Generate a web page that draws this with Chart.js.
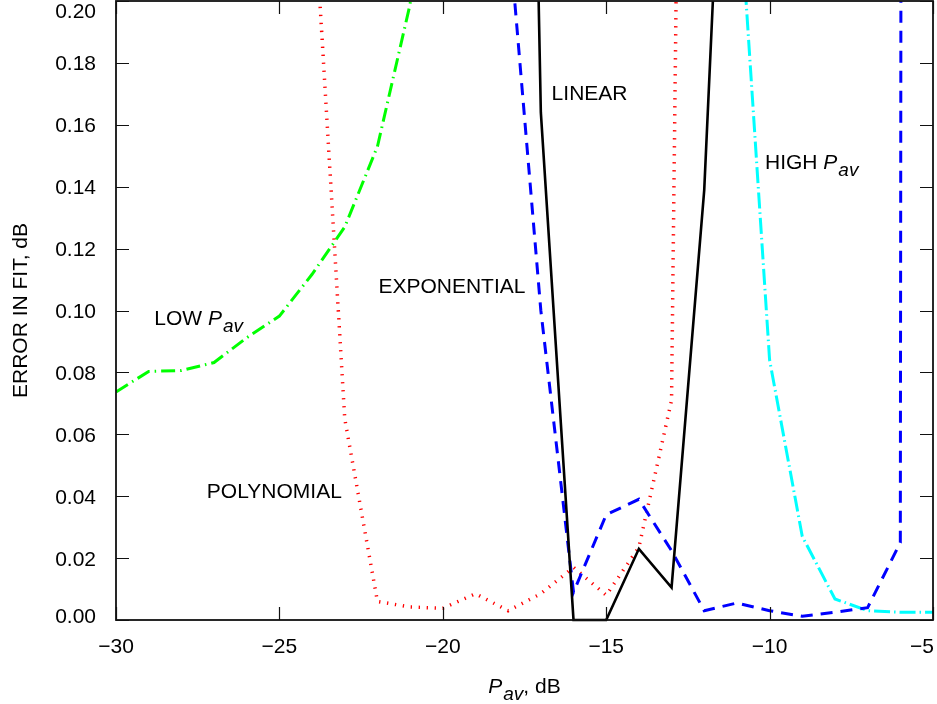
<!DOCTYPE html>
<html>
<head>
<meta charset="utf-8">
<script src="https://cdn.jsdelivr.net/npm/chart.js@4.4.1/dist/chart.umd.min.js"></script>
<style>
  html, body { margin: 0; padding: 0; background: #fff; }
  #wrap { width: 937px; height: 704px; }
</style>
</head>
<body>
<div id="wrap"><canvas id="myChart" width="937" height="704"></canvas></div>
<script>
// values: x = Pav in dB, y = error in fit in dB
var lowDb  = [-30, -29, -28, -27, -26, -25, -24, -23, -22, -21, -20];
var lowErr = [0.0737, 0.0803, 0.0806, 0.0832, 0.0912, 0.0982, 0.1117, 0.127, 0.153, 0.199, 0.30];

var polyDb  = [-24, -23, -22, -21, -20, -19, -18, -17, -16, -15, -14, -13, -12];
var polyErr = [0.242, 0.065, 0.006, 0.0042, 0.0038, 0.0085, 0.003, 0.0085, 0.017, 0.008, 0.0235, 0.071, 1.0];

var expDb  = [-18, -17, -16, -15, -14, -13, -12, -11, -10, -9, -8, -7, -6, -5];
var expErr = [0.225, 0.10, 0.009, 0.034, 0.039, 0.0224, 0.003, 0.0055, 0.003, 0.0012, 0.0025, 0.004, 0.025, 10];

var linDb  = [-18, -17, -16, -15, -14, -13, -12, -11];
var linErr = [0.7, 0.164, 0, 0, 0.023, 0.0105, 0.139, 0.37];

var highDb  = [-11, -10, -9, -8, -7, -6, -5];
var highErr = [0.245, 0.084, 0.027, 0.0068, 0.003, 0.0025, 0.0025];

var xTicks = [-30, -25, -20, -15, -10, -5];
var yTicks = [0, 0.02, 0.04, 0.06, 0.08, 0.10, 0.12, 0.14, 0.16, 0.18, 0.20];

var FONT = '"Liberation Sans", Arial, Helvetica, sans-serif';
var FS = 21;

function pts(xs, ys) {
  return xs.map(function (v, i) { return { x: v, y: ys[i] }; });
}

// P italic with italic "av" subscript, returns width drawn
function drawPav(ctx, x, y) {
  ctx.font = 'italic ' + FS + 'px ' + FONT;
  ctx.fillText('P', x, y);
  var w = ctx.measureText('P').width + 1;
  ctx.font = 'italic 19px ' + FONT;
  ctx.fillText('av', x + w, y + 7);
  w += ctx.measureText('av').width;
  ctx.font = FS + 'px ' + FONT;
  return w;
}
function pavWidth(ctx) {
  ctx.font = 'italic ' + FS + 'px ' + FONT;
  var w = ctx.measureText('P').width + 1;
  ctx.font = 'italic 19px ' + FONT;
  return w + ctx.measureText('av').width;
}

var decor = {
  id: 'decor',
  afterDatasetsDraw: function (chart) {
    var ctx = chart.ctx, a = chart.chartArea, x = chart.scales.x, y = chart.scales.y;
    ctx.save();
    ctx.strokeStyle = '#111';
    ctx.lineWidth = 1.8;
    ctx.strokeRect(a.left, a.top, a.right - a.left, a.bottom - a.top);

    // inward ticks, mirrored on all sides
    ctx.lineWidth = 1.2;
    ctx.beginPath();
    xTicks.forEach(function (v) {
      var px = Math.round(x.getPixelForValue(v)) + 0.5;
      ctx.moveTo(px, a.bottom); ctx.lineTo(px, a.bottom - 13);
      ctx.moveTo(px, a.top); ctx.lineTo(px, a.top + 13);
    });
    yTicks.forEach(function (v) {
      var py = Math.round(y.getPixelForValue(v)) + 0.5;
      ctx.moveTo(a.left, py); ctx.lineTo(a.left + 13, py);
      ctx.moveTo(a.right, py); ctx.lineTo(a.right - 13, py);
    });
    ctx.stroke();

    ctx.fillStyle = '#000';
    ctx.font = FS + 'px ' + FONT;
    ctx.textBaseline = 'alphabetic';

    // tick labels (kept inside the canvas at the edges)
    ctx.textAlign = 'right';
    yTicks.forEach(function (v) {
      var py = Math.min(Math.max(y.getPixelForValue(v), 10), 615);
      ctx.fillText(v.toFixed(2), a.left - 20, py + 7.5);
    });
    ctx.textAlign = 'center';
    xTicks.forEach(function (v) {
      var s = v < 0 ? '\u2212' + Math.abs(v) : String(v);
      var px = Math.min(x.getPixelForValue(v), 922);
      ctx.fillText(s, px, a.bottom + 33);
    });

    // axis titles
    ctx.textAlign = 'left';
    var tail = ', dB';
    var tw = pavWidth(ctx);
    ctx.font = FS + 'px ' + FONT;
    tw += ctx.measureText(tail).width;
    var sx = (a.left + a.right) / 2 - tw / 2;
    var w = drawPav(ctx, sx, 693);
    ctx.fillText(tail, sx + w, 693);

    ctx.save();
    ctx.translate(27, (a.top + a.bottom) / 2);
    ctx.rotate(-Math.PI / 2);
    ctx.textAlign = 'center';
    ctx.fillText('ERROR IN FIT, dB', 0, 0);
    ctx.restore();

    // curve labels (data coordinates)
    function at(dx, dy) { return [x.getPixelForValue(dx), y.getPixelForValue(dy)]; }
    var p;
    p = at(-16.67, 0.168); ctx.fillText('LINEAR', p[0], p[1]);
    p = at(-21.97, 0.1056); ctx.fillText('EXPONENTIAL', p[0], p[1]);
    p = at(-27.22, 0.0395); ctx.fillText('POLYNOMIAL', p[0], p[1]);
    p = at(-28.83, 0.0953);
    ctx.fillText('LOW ', p[0], p[1]);
    drawPav(ctx, p[0] + ctx.measureText('LOW ').width, p[1]);
    p = at(-10.14, 0.1456);
    ctx.font = FS + 'px ' + FONT;
    ctx.fillText('HIGH ', p[0], p[1]);
    drawPav(ctx, p[0] + ctx.measureText('HIGH ').width, p[1]);
    ctx.restore();
  }
};

var clipBox = { left: 0, top: 0, right: 0, bottom: 3 };

var ctx = document.getElementById('myChart');
var myChart = new Chart(ctx, {
  type: 'line',
  data: {
    datasets: [
      { label: 'LINEAR', data: pts(linDb, linErr), borderColor: '#000000', borderWidth: 2.6, clip: clipBox },
      { label: 'EXPONENTIAL', data: pts(expDb, expErr), borderColor: '#0000ff', borderWidth: 3, borderDash: [12, 8], clip: clipBox },
      { label: 'HIGH Pav', data: pts(highDb, highErr), borderColor: '#00ffff', borderWidth: 3, borderDash: [16, 4, 1.5, 4], clip: clipBox },
      { label: 'LOW Pav', data: pts(lowDb, lowErr), borderColor: '#00ff00', borderWidth: 3, borderDash: [14, 5, 1.5, 5], clip: clipBox },
      { label: 'POLYNOMIAL', data: pts(polyDb, polyErr), borderColor: '#ff0000', borderWidth: 3.5, borderDash: [1.3, 6.7], clip: clipBox }
    ]
  },
  options: {
    responsive: false,
    animation: false,
    devicePixelRatio: 1,
    layout: { padding: { top: 1, right: 4, left: 0, bottom: 0 } },
    elements: { point: { radius: 0 }, line: { tension: 0, fill: false } },
    plugins: { legend: { display: false }, tooltip: { enabled: false } },
    events: [],
    scales: {
      x: {
        type: 'linear', min: -30, max: -5,
        grid: { display: false, drawTicks: false }, border: { display: false },
        ticks: { display: false },
        afterFit: function (s) { s.height = 84; s.paddingLeft = 0; s.paddingRight = 0; }
      },
      y: {
        type: 'linear', min: 0, max: 0.2,
        grid: { display: false, drawTicks: false }, border: { display: false },
        ticks: { display: false },
        afterFit: function (s) { s.width = 116; s.paddingTop = 0; s.paddingBottom = 0; }
      }
    }
  },
  plugins: [decor]
});
</script>
</body>
</html>
